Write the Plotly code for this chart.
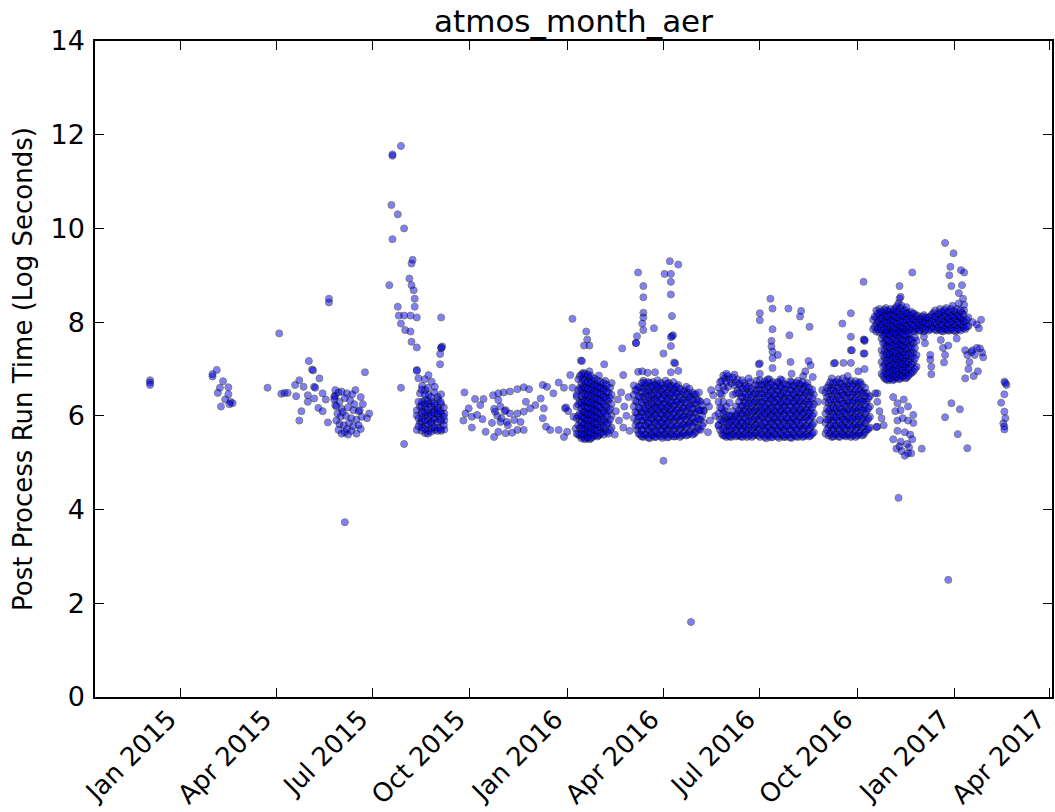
import pandas as pd
import plotly.graph_objects as go

BASE_DATE = "2015-01-01"   # day offsets below are days after this date

# ---------------- data (day offset, log seconds) ----------------
early_days = [-29, -29, -29, 30, 30, 34, 40, 37, 45, 35, 45, 42, 47, 49, 38, 46]
early_vals = [6.76, 6.71, 6.66, 6.84, 6.89, 6.98, 6.74, 6.60, 6.61, 6.49, 6.46, 6.35, 6.30, 6.27, 6.20, 6.25]

spring15_days = [82, 93, 95, 98, 101, 108, 112, 116, 121, 124, 125, 109, 114, 112, 120, 120, 126, 127, 131, 126,
                 130, 134, 134, 137, 139, 145, 146, 146, 140, 140, 155,
                 146, 149, 152, 157, 162, 145, 150, 155, 160, 164, 147, 152, 158, 163, 168, 148, 151, 156, 161,
                 166, 171, 147, 150, 154, 159, 163, 168, 149, 152, 155, 158, 161, 166, 170, 172, 170, 165, 174,
                 169, 153, 157, 176, 178]
spring15_vals = [6.60, 7.76, 6.47, 6.49, 6.49, 6.66, 6.76, 6.62, 7.17, 6.99, 6.97, 6.42, 6.10, 5.90, 6.44, 6.30, 6.62, 6.60, 6.80, 6.37,
                 6.17, 6.10, 6.48, 6.35, 5.86, 6.41, 6.43, 6.23, 8.42, 8.50, 3.73,
                 6.55, 6.50, 6.52, 6.48, 6.46, 6.35, 6.30, 6.38, 6.33, 6.25, 6.20, 6.15, 6.18, 6.12, 6.10, 6.05, 5.98, 6.00, 5.95,
                 5.92, 5.98, 5.90, 5.82, 5.80, 5.85, 5.78, 5.80, 5.70, 5.62, 5.65, 5.60, 5.68, 5.62, 5.72, 6.25, 6.40, 6.55, 6.93,
                 6.12, 6.08, 5.72, 5.95, 6.05]

fall15_days = [197, 199, 200, 200, 208, 205, 211, 200, 219, 218, 216, 218, 220, 221, 221, 205, 206, 211, 217, 223,
               208, 212, 217, 218, 223, 246, 246, 247, 246, 245, 245, 223, 208, 211]
fall15_vals = [8.79, 10.50, 11.55, 11.58, 11.76, 10.30, 10.00, 9.77, 9.33, 9.25, 8.93, 8.79, 8.68, 8.50, 8.33, 8.33, 8.14, 8.14, 8.14, 8.10,
               7.97, 7.83, 7.80, 7.58, 7.46, 8.10, 7.46, 7.48, 7.44, 7.32, 7.10, 6.98, 6.60, 5.40]

sep15_days = [223, 226, 228, 231, 234, 237, 240, 243, 246, 249,
              224.5, 227.5, 230.5, 233.5, 236.5, 239.5, 242.5, 245.5, 248.5]
sep15_cols = [
    [5.70, 6.01, 6.12, 6.96],
    [5.85, 6.20, 6.48],
    [5.75, 5.95, 6.10, 6.30, 6.64],
    [5.63, 5.80, 6.00, 6.18, 6.34, 6.55],
    [5.68, 5.90, 6.05, 6.25, 6.45, 6.87],
    [5.73, 5.87, 6.08, 6.30, 6.73],
    [5.70, 5.95, 6.12, 6.22, 6.62],
    [5.75, 6.00, 6.12, 6.35],
    [5.68, 5.88, 6.05, 6.25, 6.46],
    [5.71, 5.90, 6.05],
    [5.78, 5.95, 6.30, 6.80],
    [5.68, 5.88, 6.05, 6.22, 6.56],
    [5.72, 5.90, 6.08, 6.26, 6.45, 6.78],
    [5.62, 5.82, 5.98, 6.14, 6.32, 6.60],
    [5.66, 5.84, 6.02, 6.20, 6.40],
    [5.76, 5.92, 6.06, 6.26, 6.50],
    [5.68, 5.86, 6.04, 6.18, 6.40],
    [5.72, 5.92, 6.10, 6.30],
    [5.80, 5.98, 6.18],
]

win15_days = [268, 278, 286, 283, 272, 269, 267, 275, 275, 280, 285, 288, 296, 295, 300, 305, 311, 318, 324, 329,
              300, 297, 302, 307, 311, 302, 308, 315, 318, 326, 324, 321, 324, 300, 307, 313, 318, 330, 335, 340,
              342, 346, 352, 357, 362, 368, 343, 342, 345, 349, 357, 362, 363, 364, 366, 371, 373, 365, 374, 370,
              296, 299, 303, 306, 309, 294]
win15_vals = [6.50, 6.36, 6.36, 6.23, 6.16, 6.05, 5.90, 5.98, 5.75, 6.02, 5.93, 5.66, 5.55, 6.44, 6.48, 6.50, 6.52, 6.57, 6.61, 6.57,
              6.34, 6.09, 6.20, 6.12, 6.05, 5.87, 5.87, 5.91, 6.05, 6.30, 6.09, 5.87, 5.70, 5.66, 5.63, 5.64, 5.70, 6.16, 6.23, 6.37,
              6.66, 6.62, 6.48, 6.71, 6.60, 6.87, 6.16, 5.95, 5.77, 5.70, 5.70, 5.55, 6.16, 6.18, 6.10, 5.98, 5.73, 5.66, 6.41, 6.60,
              6.15, 6.00, 5.95, 6.10, 5.80, 5.85]

jan16_days = [374, 377, 380, 383, 386, 389, 392, 395, 398, 401, 404, 407,
              375.5, 378.5, 381.5, 384.5, 387.5, 390.5, 393.5, 396.5, 399.5, 402.5, 405.5]
jan16_cols = [
    [5.62, 5.95, 6.20, 6.45],
    [5.58, 5.75, 5.90, 6.05, 6.30, 6.60, 6.85],
    [5.55, 5.68, 5.80, 5.97, 6.10, 6.22, 6.35, 6.50, 6.63, 6.78, 6.92],
    [5.52, 5.64, 5.78, 5.90, 6.02, 6.15, 6.28, 6.40, 6.55, 6.70, 6.84],
    [5.50, 5.60, 5.72, 5.85, 5.98, 6.10, 6.25, 6.38, 6.52, 6.66, 6.80, 6.95],
    [5.55, 5.70, 5.82, 5.95, 6.08, 6.20, 6.33, 6.47, 6.60, 6.75],
    [5.60, 5.74, 5.88, 6.00, 6.14, 6.27, 6.40, 6.55, 6.68],
    [5.58, 5.76, 5.92, 6.06, 6.20, 6.36, 6.50, 6.64, 6.86],
    [5.65, 5.80, 5.96, 6.12, 6.30, 6.45, 6.60],
    [5.70, 5.88, 6.05, 6.22, 6.40, 6.58, 6.75],
    [5.62, 5.85, 6.10, 6.32, 6.50],
    [5.75, 6.00, 6.25, 6.45, 6.70],
    [5.60, 5.80, 6.00, 6.25, 6.55, 6.78],
    [5.52, 5.62, 5.74, 5.86, 6.00, 6.16, 6.28, 6.42, 6.56, 6.70, 6.88],
    [5.50, 5.60, 5.72, 5.84, 5.95, 6.08, 6.20, 6.32, 6.46, 6.60, 6.74, 6.90],
    [5.54, 5.66, 5.80, 5.92, 6.04, 6.18, 6.31, 6.45, 6.58, 6.72, 6.88],
    [5.52, 5.64, 5.76, 5.90, 6.03, 6.15, 6.28, 6.42, 6.56, 6.70, 6.85],
    [5.58, 5.72, 5.85, 5.98, 6.12, 6.24, 6.38, 6.52, 6.65, 6.80],
    [5.56, 5.68, 5.82, 5.95, 6.08, 6.22, 6.35, 6.48, 6.62, 6.76],
    [5.62, 5.75, 5.90, 6.04, 6.18, 6.32, 6.46, 6.60, 6.72],
    [5.60, 5.76, 5.92, 6.08, 6.25, 6.40, 6.55, 6.70],
    [5.66, 5.84, 6.00, 6.18, 6.36, 6.52, 6.66],
    [5.70, 5.92, 6.15, 6.38, 6.60],
]

spr16_days = [410, 411, 413, 414, 416, 418, 419, 421, 423, 424, 418, 370, 378, 379, 381, 383, 384, 386, 400, 417,
              430, 432, 436, 441, 448, 456, 463, 467, 470, 432, 437, 437, 437, 437, 436, 437, 447, 431, 430,
              462, 470, 457, 463, 463, 463, 464, 464, 465, 463, 463, 466, 456, 482, 499, 503, 505, 508, 498]
spr16_vals = [5.60, 6.10, 6.35, 5.90, 6.50, 5.75, 6.20, 6.00, 6.40, 5.68, 6.87, 8.07, 7.18, 7.17, 7.50, 7.80, 7.63, 7.50, 7.10, 7.44,
              7.56, 6.94, 6.95, 6.92, 6.93, 7.33, 6.93, 7.12, 6.96, 9.06, 8.77, 8.53, 8.20, 8.10, 7.97, 7.83, 7.87, 7.70, 7.55,
              9.30, 9.23, 9.03, 9.03, 8.86, 8.59, 8.13, 7.70, 7.72, 7.68, 7.49, 7.14, 5.04, 1.60, 6.20, 6.44, 6.00, 5.79, 5.65]

apr16_days = [428, 431, 434, 437, 440, 443, 446, 449, 452, 455, 458, 461, 464, 467, 470, 473, 476, 479, 482, 485, 488, 491, 494,
              429.5, 432.5, 435.5, 438.5, 441.5, 444.5, 447.5, 450.5, 453.5, 456.5, 459.5, 462.5, 465.5, 468.5, 471.5,
              474.5, 477.5, 480.5, 483.5, 486.5, 489.5, 492.5]
apr16_cols = [
    [5.95, 6.20, 6.45, 6.65],
    [5.70, 5.88, 6.05, 6.30, 6.55],
    [5.60, 5.80, 6.00, 6.15, 6.40, 6.60],
    [5.55, 5.72, 5.90, 6.08, 6.25, 6.42, 6.60, 6.75],
    [5.60, 5.78, 5.95, 6.12, 6.30, 6.48, 6.65],
    [5.52, 5.68, 5.85, 6.02, 6.18, 6.35, 6.52, 6.70],
    [5.58, 5.75, 5.92, 6.08, 6.24, 6.40, 6.57, 6.72],
    [5.55, 5.70, 5.88, 6.05, 6.20, 6.38, 6.55, 6.68],
    [5.60, 5.78, 5.95, 6.12, 6.28, 6.45, 6.62],
    [5.53, 5.70, 5.86, 6.02, 6.18, 6.35, 6.50, 6.66],
    [5.60, 5.76, 5.93, 6.10, 6.26, 6.42, 6.60, 6.75],
    [5.55, 5.72, 5.90, 6.06, 6.22, 6.38, 6.55, 6.70],
    [5.60, 5.78, 5.96, 6.14, 6.30, 6.48, 6.64],
    [5.56, 5.74, 5.92, 6.08, 6.25, 6.42, 6.58],
    [5.62, 5.80, 5.98, 6.15, 6.32, 6.50, 6.66],
    [5.58, 5.76, 5.94, 6.10, 6.28, 6.46],
    [5.65, 5.82, 6.00, 6.18, 6.36, 6.55],
    [5.60, 5.80, 5.98, 6.16, 6.34, 6.50],
    [5.68, 5.88, 6.06, 6.25, 6.42],
    [5.62, 5.85, 6.05, 6.25, 6.45],
    [5.75, 5.95, 6.15, 6.35],
    [5.70, 5.92, 6.12, 6.30],
    [5.85, 6.10],
    [5.80, 6.08, 6.32, 6.55],
    [5.62, 5.78, 5.96, 6.18, 6.42, 6.62],
    [5.56, 5.70, 5.90, 6.08, 6.28, 6.50, 6.70],
    [5.60, 5.80, 5.98, 6.16, 6.34, 6.52, 6.70],
    [5.54, 5.70, 5.86, 6.04, 6.22, 6.40, 6.56, 6.72],
    [5.60, 5.76, 5.94, 6.10, 6.26, 6.44, 6.62],
    [5.55, 5.66, 5.84, 6.00, 6.16, 6.32, 6.48, 6.65],
    [5.62, 5.80, 5.96, 6.14, 6.30, 6.46, 6.62, 6.76],
    [5.56, 5.70, 5.86, 6.04, 6.20, 6.36, 6.54, 6.70],
    [5.60, 5.78, 5.94, 6.10, 6.26, 6.44, 6.58],
    [5.54, 5.68, 5.84, 6.02, 6.18, 6.34, 6.50, 6.68],
    [5.62, 5.80, 5.98, 6.14, 6.30, 6.46, 6.62],
    [5.56, 5.70, 5.88, 6.05, 6.22, 6.40, 6.56, 6.72],
    [5.60, 5.78, 5.96, 6.12, 6.30, 6.48, 6.62],
    [5.55, 5.72, 5.90, 6.06, 6.24, 6.40, 6.58],
    [5.62, 5.80, 5.98, 6.16, 6.34, 6.52],
    [5.58, 5.76, 5.92, 6.10, 6.28, 6.46, 6.62],
    [5.64, 5.84, 6.02, 6.20, 6.40, 6.58],
    [5.60, 5.78, 5.96, 6.16, 6.34, 6.50],
    [5.66, 5.88, 6.08, 6.28, 6.46],
    [5.72, 5.92, 6.12, 6.32, 6.50],
    [5.78, 6.00, 6.22],
]

jul16_days = [508, 511, 514, 517, 520, 523, 526, 529, 532, 535, 538, 541, 544,
              509.5, 512.5, 515.5, 518.5, 521.5, 524.5, 527.5, 530.5, 533.5, 536.5, 539.5, 542.5, 545.5]
jul16_cols = [
    [5.80, 6.05, 6.30, 6.60],
    [5.62, 5.90, 6.15, 6.45, 6.75],
    [5.58, 5.75, 5.95, 6.10, 6.55, 6.80],
    [5.60, 5.78, 5.92, 6.62, 6.85],
    [5.55, 5.70, 5.88, 6.00, 6.70],
    [5.62, 5.80, 5.98, 6.65, 6.88],
    [5.58, 5.75, 5.90, 6.05, 6.55, 6.78],
    [5.56, 5.72, 5.88, 6.05, 6.20, 6.40, 6.62],
    [5.60, 5.78, 5.95, 6.12, 6.30, 6.50, 6.70],
    [5.55, 5.70, 5.86, 6.02, 6.20, 6.38, 6.58],
    [5.62, 5.80, 5.98, 6.15, 6.33, 6.52, 6.72],
    [5.58, 5.75, 5.92, 6.10, 6.28, 6.46],
    [5.65, 5.82, 6.00, 6.18, 6.36, 6.55, 6.75],
    [5.70, 5.92, 6.18, 6.48, 6.72],
    [5.58, 5.72, 5.88, 6.05, 6.30, 6.62, 6.86],
    [5.55, 5.68, 5.85, 6.02, 6.20, 6.72, 6.90],
    [5.56, 5.70, 5.86, 6.00, 6.28, 6.78],
    [5.60, 5.76, 5.92, 6.10, 6.45, 6.82],
    [5.56, 5.70, 5.86, 6.02, 6.20, 6.48, 6.72],
    [5.60, 5.78, 5.95, 6.12, 6.30, 6.48, 6.68],
    [5.55, 5.70, 5.86, 6.04, 6.22, 6.40, 6.58, 6.76],
    [5.62, 5.78, 5.94, 6.10, 6.28, 6.46, 6.64],
    [5.58, 5.74, 5.90, 6.08, 6.26, 6.44, 6.62, 6.80],
    [5.55, 5.70, 5.88, 6.06, 6.22, 6.40, 6.58],
    [5.62, 5.78, 5.95, 6.12, 6.30, 6.48, 6.66],
    [5.58, 5.75, 5.92, 6.10, 6.28, 6.46, 6.64],
]

aug16_days = [547, 550, 553, 556, 559, 562, 565, 568, 571, 574, 577, 580, 583, 586, 589, 592, 595, 598,
              548.5, 551.5, 554.5, 557.5, 560.5, 563.5, 566.5, 569.5, 572.5, 575.5, 578.5, 581.5, 584.5,
              587.5, 590.5, 593.5, 596.5]
aug16_cols = [
    [5.55, 5.72, 5.90, 6.06, 6.22, 6.40, 6.58, 6.76],
    [5.60, 5.78, 5.96, 6.12, 6.30, 6.48, 6.66],
    [5.52, 5.68, 5.85, 6.02, 6.18, 6.35, 6.52, 6.70],
    [5.58, 5.75, 5.92, 6.08, 6.25, 6.42, 6.60, 6.78],
    [5.55, 5.70, 5.88, 6.05, 6.20, 6.38, 6.55, 6.72],
    [5.60, 5.77, 5.94, 6.10, 6.28, 6.45, 6.62],
    [5.53, 5.70, 5.87, 6.04, 6.20, 6.36, 6.53, 6.70],
    [5.58, 5.75, 5.92, 6.10, 6.26, 6.43, 6.60, 6.76],
    [5.55, 5.72, 5.90, 6.06, 6.22, 6.40, 6.58],
    [5.60, 5.78, 5.95, 6.12, 6.30, 6.47, 6.65],
    [5.53, 5.70, 5.88, 6.04, 6.20, 6.38, 6.55, 6.72],
    [5.58, 5.76, 5.93, 6.10, 6.27, 6.44, 6.62],
    [5.55, 5.72, 5.90, 6.07, 6.24, 6.40, 6.58, 6.75],
    [5.60, 5.78, 5.96, 6.13, 6.30, 6.48, 6.66],
    [5.57, 5.74, 5.92, 6.08, 6.26, 6.44, 6.62],
    [5.62, 5.80, 5.98, 6.15, 6.33, 6.52, 6.70],
    [5.58, 5.76, 5.95, 6.12, 6.30, 6.50],
    [5.65, 5.85, 6.05, 6.25, 6.45],
    [5.62, 5.80, 5.98, 6.14, 6.30, 6.48, 6.66],
    [5.55, 5.70, 5.86, 6.04, 6.20, 6.38, 6.56, 6.74],
    [5.60, 5.76, 5.94, 6.10, 6.26, 6.44, 6.62, 6.78],
    [5.54, 5.68, 5.84, 6.00, 6.16, 6.34, 6.50, 6.68],
    [5.62, 5.80, 5.96, 6.12, 6.30, 6.46, 6.64],
    [5.56, 5.72, 5.88, 6.04, 6.20, 6.36, 6.54, 6.72],
    [5.62, 5.78, 5.96, 6.12, 6.28, 6.45, 6.62, 6.78],
    [5.55, 5.70, 5.86, 6.02, 6.18, 6.34, 6.50, 6.68],
    [5.60, 5.78, 5.95, 6.12, 6.30, 6.48, 6.66],
    [5.54, 5.70, 5.86, 6.04, 6.22, 6.38, 6.56, 6.74],
    [5.62, 5.80, 5.96, 6.12, 6.30, 6.46, 6.64],
    [5.56, 5.72, 5.88, 6.04, 6.20, 6.36, 6.52, 6.70],
    [5.62, 5.80, 5.98, 6.14, 6.32, 6.50, 6.68],
    [5.55, 5.70, 5.86, 6.04, 6.20, 6.38, 6.56, 6.72],
    [5.60, 5.78, 5.96, 6.12, 6.30, 6.48, 6.64],
    [5.56, 5.72, 5.90, 6.06, 6.24, 6.42, 6.60],
    [5.62, 5.80, 6.00, 6.18, 6.38, 6.56],
]

oct16_days = [609, 612, 615, 618, 621, 624, 627, 630, 633, 636, 639, 642, 645, 648, 651,
              610.5, 613.5, 616.5, 619.5, 622.5, 625.5, 628.5, 631.5, 634.5, 637.5, 640.5, 643.5, 646.5, 649.5]
oct16_cols = [
    [5.62, 5.85, 6.05, 6.30, 6.50],
    [5.58, 5.75, 5.92, 6.10, 6.28, 6.46, 6.65],
    [5.55, 5.72, 5.90, 6.07, 6.24, 6.42, 6.60, 6.80],
    [5.60, 5.78, 5.96, 6.12, 6.30, 6.48, 6.66],
    [5.56, 5.73, 5.90, 6.08, 6.25, 6.43, 6.60, 6.78],
    [5.62, 5.80, 5.98, 6.15, 6.33, 6.50, 6.68],
    [5.58, 5.75, 5.92, 6.10, 6.27, 6.45, 6.62],
    [5.60, 5.78, 5.95, 6.12, 6.30, 6.48, 6.65, 6.85],
    [5.55, 5.72, 5.90, 6.06, 6.23, 6.40, 6.58, 6.75],
    [5.62, 5.80, 5.97, 6.14, 6.32, 6.50, 6.68],
    [5.58, 5.76, 5.93, 6.10, 6.28, 6.46, 6.64],
    [5.65, 5.82, 6.00, 6.18, 6.36, 6.55, 6.72],
    [5.60, 5.78, 5.96, 6.14, 6.32, 6.50],
    [5.70, 5.90, 6.10, 6.30, 6.48],
    [5.75, 5.98, 6.20, 6.42],
    [5.70, 5.92, 6.15, 6.40, 6.60],
    [5.62, 5.80, 5.98, 6.16, 6.34, 6.54, 6.72],
    [5.56, 5.70, 5.86, 6.02, 6.18, 6.36, 6.54, 6.70],
    [5.62, 5.80, 5.98, 6.16, 6.34, 6.52, 6.72],
    [5.55, 5.70, 5.86, 6.02, 6.18, 6.36, 6.54, 6.70],
    [5.60, 5.76, 5.92, 6.08, 6.26, 6.44, 6.62, 6.80],
    [5.56, 5.72, 5.88, 6.04, 6.20, 6.38, 6.56, 6.74],
    [5.62, 5.80, 5.96, 6.14, 6.32, 6.50, 6.70],
    [5.58, 5.76, 5.94, 6.10, 6.28, 6.46, 6.64],
    [5.55, 5.70, 5.86, 6.04, 6.20, 6.38, 6.56, 6.74],
    [5.62, 5.80, 5.98, 6.16, 6.34, 6.52, 6.70],
    [5.58, 5.76, 5.94, 6.12, 6.30, 6.48, 6.66],
    [5.65, 5.85, 6.05, 6.24, 6.42, 6.60],
    [5.72, 5.94, 6.16, 6.38],
]

sum16_days = [494, 501, 500, 497, 604, 602, 606, 658, 658, 547, 547, 557, 559, 574, 586, 585, 594,
              559, 575, 558, 558, 559, 564, 559, 559, 547, 547, 593, 595, 577, 588,
              645, 633, 625, 633, 645, 646, 633, 645, 618, 626, 633, 617, 634, 640, 646, 546, 576, 597, 590]
sum16_vals = [6.12, 6.55, 5.90, 6.30, 5.91, 6.30, 6.55, 6.48, 5.77, 8.19, 8.04, 8.50, 8.29, 8.29, 8.24, 8.12, 7.90,
              7.85, 7.72, 7.60, 7.48, 7.37, 7.30, 7.23, 7.02, 7.12, 6.90, 7.17, 7.08, 6.90, 6.85,
              8.86, 8.19, 7.97, 7.69, 7.63, 7.60, 7.40, 7.33, 7.13, 7.13, 7.13, 7.12, 7.40, 6.95, 7.00, 7.10, 7.15, 6.83, 6.95]

band_days = [654, 657, 660, 663, 666, 669, 672, 675, 678, 681, 684, 687, 690, 693, 696, 699, 702,
             705, 708, 711, 714, 717, 720, 723, 726, 729, 732, 735, 738, 741, 744,
             655.5, 658.5, 661.5, 664.5, 667.5, 670.5, 673.5, 676.5, 679.5, 682.5, 685.5, 688.5, 691.5, 694.5, 697.5,
             700.5, 703.5, 706.5, 709.5, 712.5, 715.5, 718.5, 721.5, 724.5, 727.5, 730.5, 733.5, 736.5, 739.5, 742.5]
band_cols = [
    [7.85, 8.05],
    [7.80, 7.95, 8.10, 8.25],
    [7.78, 7.90, 8.02, 8.15, 8.28],
    [7.82, 7.95, 8.08, 8.20],
    [7.80, 7.92, 8.05, 8.18, 8.30],
    [7.85, 7.98, 8.10, 8.22],
    [7.80, 7.93, 8.06, 8.20],
    [7.78, 7.90, 8.03, 8.16, 8.30],
    [7.83, 7.96, 8.10, 8.24, 8.40],
    [7.80, 7.92, 8.05, 8.18, 8.35],
    [7.85, 7.98, 8.12, 8.26],
    [7.80, 7.94, 8.08, 8.20],
    [7.84, 7.97, 8.10, 8.22],
    [7.80, 7.92, 8.05, 8.18],
    [7.86, 8.00, 8.14],
    [7.82, 7.95, 8.08],
    [7.80, 7.92, 8.05, 8.15],
    [7.90, 8.05],
    [7.85, 7.98, 8.12],
    [7.90, 8.05, 8.20],
    [7.82, 7.95, 8.10],
    [7.85, 8.00, 8.15, 8.28],
    [7.80, 7.92, 8.05, 8.20],
    [7.85, 7.98, 8.12, 8.30],
    [7.82, 7.95, 8.08, 8.22],
    [7.88, 8.02, 8.15, 8.35],
    [7.80, 7.93, 8.06, 8.20],
    [7.85, 8.00, 8.12, 8.40],
    [7.90, 8.05, 8.20],
    [7.85, 8.00],
    [7.92, 8.10],
    [7.90, 8.12],
    [7.85, 8.00, 8.18],
    [7.84, 7.96, 8.08, 8.22],
    [7.86, 8.00, 8.14, 8.26],
    [7.84, 7.98, 8.12, 8.24],
    [7.80, 7.92, 8.04, 8.16, 8.28],
    [7.86, 8.00, 8.13, 8.26],
    [7.84, 7.97, 8.10, 8.22, 8.34],
    [7.80, 7.90, 8.02, 8.16, 8.30],
    [7.86, 8.00, 8.12, 8.24],
    [7.82, 7.92, 8.05, 8.18, 8.32],
    [7.86, 8.00, 8.14],
    [7.82, 7.94, 8.06, 8.18],
    [7.86, 8.00, 8.12],
    [7.82, 7.94, 8.06],
    [7.88, 8.00, 8.12],
    [7.84, 7.98, 8.10],
    [7.82, 7.96, 8.10],
    [7.88, 8.02, 8.16],
    [7.84, 7.98, 8.12, 8.25],
    [7.88, 8.04, 8.18],
    [7.82, 7.95, 8.08, 8.22],
    [7.86, 8.00, 8.14, 8.26],
    [7.82, 7.95, 8.08, 8.22],
    [7.86, 8.00, 8.14, 8.28],
    [7.82, 7.95, 8.10, 8.24],
    [7.86, 8.00, 8.14, 8.28],
    [7.82, 7.96, 8.10, 8.25],
    [7.88, 8.02, 8.16],
    [7.90, 8.05],
]

col_days = [662, 665, 668, 671, 674, 677, 680, 683, 686, 689, 692, 695,
            663.5, 666.5, 669.5, 672.5, 675.5, 678.5, 681.5, 684.5, 687.5, 690.5, 693.5]
col_cols = [
    [6.90, 7.15, 7.40, 7.65],
    [6.80, 6.95, 7.10, 7.25, 7.40, 7.55, 7.70],
    [6.76, 6.88, 7.00, 7.12, 7.25, 7.38, 7.50, 7.62, 7.75],
    [6.80, 6.92, 7.05, 7.18, 7.30, 7.43, 7.56, 7.70],
    [6.78, 6.90, 7.02, 7.15, 7.28, 7.40, 7.53, 7.66],
    [6.82, 6.95, 7.08, 7.20, 7.33, 7.46, 7.60, 7.72],
    [6.80, 6.92, 7.05, 7.18, 7.30, 7.43, 7.56, 7.70],
    [6.85, 6.98, 7.10, 7.23, 7.36, 7.50, 7.63],
    [6.82, 6.96, 7.10, 7.25, 7.40, 7.55, 7.70],
    [6.90, 7.05, 7.20, 7.35, 7.50, 7.65],
    [6.95, 7.15, 7.35, 7.55],
    [7.05, 7.30, 7.60],
    [6.85, 7.05, 7.30, 7.55, 7.72],
    [6.78, 6.90, 7.02, 7.18, 7.32, 7.48, 7.62, 7.76],
    [6.80, 6.94, 7.06, 7.20, 7.32, 7.46, 7.58, 7.72],
    [6.76, 6.86, 6.98, 7.10, 7.24, 7.36, 7.50, 7.64, 7.76],
    [6.82, 6.96, 7.08, 7.22, 7.34, 7.48, 7.60, 7.74],
    [6.78, 6.88, 7.00, 7.14, 7.26, 7.40, 7.52, 7.66, 7.78],
    [6.84, 6.98, 7.10, 7.24, 7.36, 7.50, 7.62, 7.75],
    [6.80, 6.92, 7.04, 7.16, 7.30, 7.44, 7.58, 7.72],
    [6.86, 7.00, 7.14, 7.30, 7.46, 7.62, 7.76],
    [6.92, 7.10, 7.28, 7.45, 7.62],
    [7.00, 7.22, 7.45, 7.68],
]

win16_days = [646, 646, 680, 679, 679, 691, 702, 703, 708, 708, 709, 709, 718, 720, 722, 725, 721, 733, 741, 743,
              745, 747, 748, 744, 749, 741, 754, 755, 722, 730, 727, 726, 737, 740, 738, 728, 735, 739, 740, 740,
              656, 658, 660, 662, 664, 657, 673, 677, 680, 683, 675, 692, 687,
              677, 682, 687, 692, 677, 684, 689, 673, 680, 686, 691, 676, 681, 687, 690, 700, 684, 679, 688,
              728, 736, 722, 734, 743, 678, 725, 750, 752, 757, 753, 758, 748, 752, 756]
win16_vals = [7.62, 7.33, 8.54, 8.77, 8.50, 9.06, 7.69, 7.55, 7.30, 7.20, 7.05, 6.89, 7.62, 7.45, 7.30, 7.50, 7.14, 7.65, 7.40, 7.30,
              7.15, 7.36, 7.40, 7.00, 6.85, 6.80, 7.87, 7.44, 9.69, 9.47, 9.18, 9.00, 9.11, 9.06, 8.79, 8.77, 8.62, 8.50, 8.37, 8.25,
              6.48, 6.30, 6.10, 5.95, 5.80, 5.76, 6.40, 6.27, 6.12, 6.35, 6.10, 6.02, 6.20,
              5.90, 5.95, 5.90, 5.85, 5.68, 5.65, 5.60, 5.50, 5.45, 5.40, 5.50, 5.30, 5.25, 5.20, 5.20, 5.30, 5.15, 5.35, 5.33,
              6.27, 6.14, 5.97, 5.61, 5.31, 4.25, 2.50, 7.30, 7.45, 7.35, 6.95, 7.25, 8.00, 7.95, 8.05]

mar17_days = [778, 780, 778, 775, 778, 779, 777, 778, 778, 779]
mar17_vals = [6.73, 6.66, 6.46, 6.28, 6.09, 5.95, 5.84, 5.77, 5.71, 6.70]

tick_dates = ["2015-01-01", "2015-04-01", "2015-07-01", "2015-10-01", "2016-01-01",
              "2016-04-01", "2016-07-01", "2016-10-01", "2017-01-01", "2017-04-01"]
tick_labels = ["Jan 2015", "Apr 2015", "Jul 2015", "Oct 2015", "Jan 2016",
               "Apr 2016", "Jul 2016", "Oct 2016", "Jan 2017", "Apr 2017"]
y_ticks = [0, 2, 4, 6, 8, 10, 12, 14]

# ---------------- assemble ----------------
all_days, all_vals = [], []
for d, v in [(early_days, early_vals), (spring15_days, spring15_vals), (fall15_days, fall15_vals),
             (win15_days, win15_vals), (spr16_days, spr16_vals), (sum16_days, sum16_vals),
             (win16_days, win16_vals), (mar17_days, mar17_vals)]:
    assert len(d) == len(v), (len(d), len(v))
    all_days += d
    all_vals += v
for ds, cols in [(sep15_days, sep15_cols), (jan16_days, jan16_cols), (apr16_days, apr16_cols),
                 (jul16_days, jul16_cols), (aug16_days, aug16_cols), (oct16_days, oct16_cols),
                 (band_days, band_cols), (col_days, col_cols)]:
    assert len(ds) == len(cols), (len(ds), len(cols))
    for d, col in zip(ds, cols):
        for v in col:
            all_days.append(d)
            all_vals.append(v)

dates = pd.Timestamp(BASE_DATE) + pd.to_timedelta(all_days, unit="D")

FONT = "DejaVu Sans"
fig = go.Figure()
fig.add_trace(go.Scatter(
    x=dates, y=all_vals, mode="markers",
    marker=dict(size=7, color="blue", opacity=0.5,
                line=dict(color="black", width=1)),
    showlegend=False, hoverinfo="x+y",
))

axis_common = dict(showline=True, linecolor="black", linewidth=1.5, mirror="allticks",
                   ticks="inside", ticklen=9, tickwidth=1.2, tickcolor="black",
                   showgrid=False, zeroline=False, automargin=False)

fig.update_layout(
    width=1055, height=812,
    margin=dict(l=95, r=3, t=41, b=115),
    paper_bgcolor="white", plot_bgcolor="white",
    font=dict(family=FONT, color="black"),
    title=dict(text="atmos_month_aer", x=0.5, xref="paper", xanchor="center",
               y=1 - 21 / 812, yref="container", yanchor="middle",
               font=dict(family=FONT, size=31, color="black")),
    xaxis=dict(type="date", range=["2014-10-12", "2017-04-03"],
               tickmode="array", tickvals=tick_dates, ticktext=tick_labels,
               tickangle=-45, tickfont=dict(family=FONT, size=26, color="black"),
               ticklabelstandoff=-5, ticklabelshift=-12, ticklabeloverflow="allow",
               **axis_common),
    yaxis=dict(range=[0, 14], tickmode="array", tickvals=y_ticks,
               tickfont=dict(family=FONT, size=27, color="black"),
               ticklabelstandoff=3,
               title=dict(text="Post Process Run Time (Log Seconds)",
                          font=dict(family=FONT, size=26, color="black"), standoff=10),
               **axis_common),
)

fig.write_html("out.html", config={"displayModeBar": False},
               post_script="document.body.style.margin='0px';")
